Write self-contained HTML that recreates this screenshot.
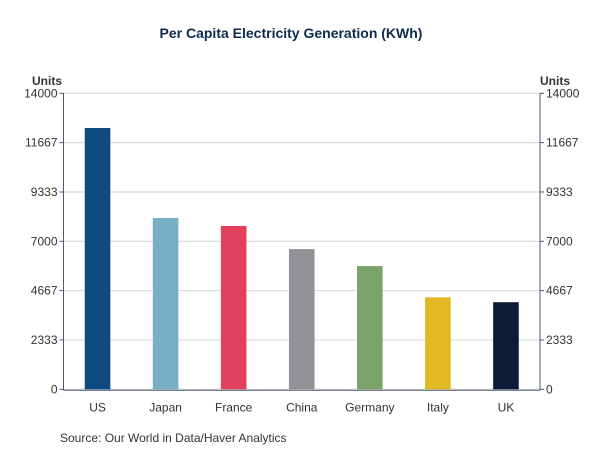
<!DOCTYPE html>
<html><head><meta charset="utf-8"><style>
body{margin:0;background:#fff;font-family:"Liberation Sans",sans-serif;}
</style></head><body>
<svg width="602" height="451" xmlns="http://www.w3.org/2000/svg" font-family="Liberation Sans, sans-serif">
<text x="291" y="38" text-anchor="middle" font-size="14" font-weight="bold" fill="#0d2a4f">Per Capita Electricity Generation (KWh)</text>
<text x="47" y="85" text-anchor="middle" font-size="12" font-weight="bold" fill="#333">Units</text>
<text x="555" y="85" text-anchor="middle" font-size="12" font-weight="bold" fill="#333">Units</text>
<g id="grid"></g><g id="bars"></g><g id="axes"></g>
<text x="60" y="442" font-size="12" fill="#333">Source:  Our World in Data/Haver Analytics</text>
</svg>
<script>
const categories=["US","Japan","France","China","Germany","Italy","UK"];
const values=[12360,8100,7725,6630,5830,4350,4120];
const colors=["#0f4a80","#77afc4","#e0405c","#929195","#7aa36a","#e0b922","#0c1a36"];
const ticks=[0,2333,4667,7000,9333,11667,14000];
const X0=63.5,X1=540,Y0=389.3,Y1=93.3,MAX=14000;
const ns="http://www.w3.org/2000/svg";
const y=v=>Y0-(v/MAX)*(Y0-Y1);
const bw=(X1-X0)/categories.length;
const x=i=>X0+bw*(i+0.5);
function mk(t,a,p){const e=document.createElementNS(ns,t);for(const k in a)e.setAttribute(k,a[k]);p.appendChild(e);return e;}
const g=document.getElementById('grid'),b=document.getElementById('bars'),ax=document.getElementById('axes');
ticks.forEach(t=>{
 const l=mk('line',{x1:X0,x2:X1,y1:y(t),y2:y(t),stroke:'#d6d6d6','stroke-width':1},g);
 
 
 const a=mk('text',{x:X0-6,y:y(t)+4,'text-anchor':'end','font-size':12,fill:'#333'},ax);a.textContent=t;
 
 
 const c=mk('text',{x:X1+6,y:y(t)+4,'text-anchor':'start','font-size':12,fill:'#333'},ax);c.textContent=t;
 
 
 mk('line',{x1:X0-4,x2:X0,y1:y(t),y2:y(t),stroke:'#4a5a70'},ax);
 mk('line',{x1:X1,x2:X1+4,y1:y(t),y2:y(t),stroke:'#4a5a70'},ax);
});
categories.forEach((c,i)=>{
 const r=mk('rect',{x:x(i)-12.8,y:y(values[i]),width:25.6,height:Y0-y(values[i]),fill:colors[i]},b);
 
 
 const t=mk('text',{x:x(i),y:Y0+22,'text-anchor':'middle','font-size':12,fill:'#333'},ax);t.textContent=c;
 
 
});
mk('line',{x1:X0,x2:X0,y1:Y1,y2:Y0+1,stroke:'#4a5a70'},ax);
mk('line',{x1:X1,x2:X1,y1:Y1,y2:Y0+1,stroke:'#4a5a70'},ax);
mk('line',{x1:X0,x2:X1,y1:Y0+1,y2:Y0+1,stroke:'#4a5a70'},ax);
</script>
</body></html>
